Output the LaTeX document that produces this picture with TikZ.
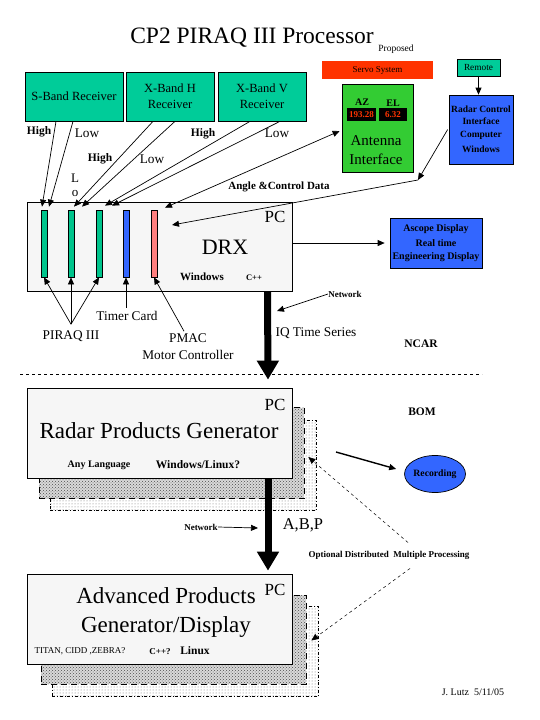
\documentclass[tikz,border=0pt]{standalone}
\usepackage{fontspec}
\setmainfont{Liberation Serif}
\usetikzlibrary{positioning,arrows.meta,patterns,shapes.geometric}
\definecolor{rxteal}{RGB}{0,204,153}
\definecolor{antgreen}{RGB}{51,204,51}
\definecolor{ctlblue}{RGB}{51,102,255}
\definecolor{servored}{RGB}{255,51,0}
\definecolor{cardpink}{RGB}{255,128,128}
\definecolor{cardgreen}{RGB}{0,196,140}
\definecolor{pcgray}{RGB}{246,246,246}
\tikzset {
    style Rx/.style={
        fill=rxteal,
        draw=black,
        rectangle, % receiver boxes
        minimum height=49pt,
        inner sep=0pt,
        align=center,
        font=\fontsize{12.5}{16}\selectfont,
    },
    style PC/.style={
        fill=pcgray,
        draw=black,
        rectangle, % computer boxes
        minimum width=265pt,
        minimum height=90pt,
        inner sep=0pt,
    },
    style Shade/.style={
        draw=black,
        dash pattern=on 6pt off 4pt,
        preaction={fill=black!15},
        pattern=crosshatch dots,
        pattern color=black!70,
        rectangle, % stacked copies behind a PC box
        minimum width=265pt,
        minimum height=90pt,
        inner sep=0pt,
    },
    style Back/.style={
        draw=black,
        dash dot,
        preaction={fill=white},
        pattern=dots,
        pattern color=black!55,
        rectangle, % last copy in the stack
        minimum width=266pt,
        minimum height=90pt,
        inner sep=0pt,
    },
    style Card/.style={
        draw=black,
        rectangle, % boards in the DRX
        minimum width=6pt,
        minimum height=67pt,
        inner sep=0pt,
    },
    style Blue/.style={
        fill=ctlblue,
        draw=black,
        rectangle,
        inner sep=0pt,
        align=center,
        font=\bfseries\fontsize{9.5}{12.5}\selectfont,
    },
    style Text/.style={inner sep=0pt, align=center, font=\fontsize{13.3}{17}\selectfont},
    style Bold/.style={inner sep=0pt, align=center, font=\bfseries\fontsize{11.5}{13}\selectfont},
    style Small/.style={inner sep=0pt, align=center, font=\bfseries\fontsize{9}{11}\selectfont},
    style Fat/.style={line width=7pt, -{Triangle[length=19pt,width=21pt]}},
}

\begin{document}
\begin{tikzpicture}
[x=1pt, y=-1pt, line width=0.7pt, >={Triangle[length=7pt,width=6pt]}]
\useasboundingbox (0,0) rectangle (540,720);

\node[inner sep=0pt, font=\fontsize{23.5}{26}\selectfont] at (252,38) (title) {CP2 PIRAQ III Processor};
\node[inner sep=0pt, font=\fontsize{9.5}{11}\selectfont] at (396,49) (proposed) {Proposed};

% receivers
\node[style Rx, minimum width=98pt] at (74,96.5) (sband) {S-Band Receiver};
\node[style Rx, minimum width=88pt] at (170,96.5) (xh) {X-Band H\\Receiver};
\node[style Rx, minimum width=88pt] at (262,96.5) (xv) {X-Band V\\Receiver};

% servo side
\node[fill=servored, minimum width=111pt, minimum height=18pt, inner sep=0pt, font=\fontsize{9}{11}\selectfont] at (377.5,70) (servo) {Servo System};
\node[fill=rxteal, draw=black, minimum width=43pt, minimum height=17pt, inner sep=0pt, font=\fontsize{9.3}{11}\selectfont] at (478.5,67.5) (remote) {Remote};
\node[fill=antgreen, draw=black, minimum width=71pt, minimum height=88pt, inner sep=0pt] at (377.5,128) (ant) {};
\node[style Small, font=\bfseries\fontsize{10}{12}\selectfont] at (362,102) (az) {AZ};
\node[style Small, font=\bfseries\fontsize{10}{12}\selectfont] at (393,103) (el) {EL};
\node[fill=black, text=servored, minimum width=29pt, minimum height=13pt, inner sep=0pt, font=\bfseries\fontsize{9}{11}\selectfont] at (361.5,114.5) (azval) {193.28};
\node[fill=black, text=servored, minimum width=28pt, minimum height=13pt, inner sep=0pt, font=\bfseries\fontsize{9}{11}\selectfont] at (393,114.5) (elval) {6.32};
\node[inner sep=0pt, align=center, font=\fontsize{15}{19}\selectfont] at (376,150) (antname) {Antenna\\Interface};
\node[style Blue, minimum width=64pt, minimum height=69pt] at (481,129.5) (rci) {Radar Control\\Interface\\Computer\\[3pt]Windows};

% signal labels
\node[style Bold] at (39,132) (hi1) {High};
\node[style Text] at (87,133) (lo1) {Low};
\node[style Bold] at (100,159) (hi2) {High};
\node[style Text] at (152,159) (lo2) {Low};
\node[style Bold] at (203,134) (hi3) {High};
\node[style Text] at (277,133) (lo3) {Low};
\node[style Text, font=\fontsize{13}{13.5}\selectfont] at (75,192) (lovert) {L\\o\\w};
\node[style Bold, font=\bfseries\fontsize{11}{13}\selectfont] at (279,187) (acdata) {Angle \&Control Data};

% DRX
\node[style PC, minimum height=89pt] at (159.5,246.5) (drx) {};
\node[inner sep=0pt, font=\fontsize{17}{20}\selectfont] at (275,217) (drxpc) {PC};
\node[inner sep=0pt, font=\fontsize{22}{26}\selectfont] at (225,247) (drxname) {DRX};
\node[style Bold, font=\bfseries\fontsize{11}{13}\selectfont] at (202,277) (drxos) {Windows};
\node[style Small, font=\bfseries\fontsize{8.5}{10}\selectfont] at (254,278) (drxlang) {C++};
\node[style Card, fill=cardgreen] at (44,243.5) (card1) {};
\node[style Card, fill=cardgreen] at (71,243.5) (card2) {};
\node[style Card, fill=cardgreen] at (99,243.5) (card3) {};
\node[style Card, fill=ctlblue] at (126,243.5) (card4) {};
\node[style Card, fill=cardpink] at (154,243.5) (card5) {};
\node[style Blue, minimum width=92pt, minimum height=50pt, font=\bfseries\fontsize{10}{13}\selectfont] at (436,243) (ascope) {Ascope Display\\[2pt]Real time\\Engineering Display};

\node[style Text] at (71,336) (piraq) {PIRAQ III};
\node[style Text] at (127,316) (timer) {Timer Card};
\node[style Text] at (188,346.5) (pmac) {PMAC\\Motor Controller};
\node[style Small] at (345,294) (net1) {Network};
\node[style Text] at (316,333) (iq) {IQ Time Series};
\node[style Bold] at (421,344) (ncar) {NCAR};
\node[style Bold] at (422,412) (bom) {BOM};

% RPG
\node[style Back] at (183,465) (rpgsh2) {};
\node[style Shade, minimum height=91pt] at (171.5,453) (rpgsh1) {};
\node[style PC] at (160,433) (rpg) {};
\node[inner sep=0pt, font=\fontsize{17}{20}\selectfont] at (275,405) (rpgpc) {PC};
\node[inner sep=0pt, font=\fontsize{23}{26}\selectfont] at (159,431) (rpgname) {Radar Products Generator};
\node[style Small, font=\bfseries\fontsize{10}{12}\selectfont] at (99,465) (rpglang) {Any Language};
\node[style Bold] at (198,465) (rpgos) {Windows/Linux?};
\node[ellipse, fill=ctlblue, draw=black, minimum width=59pt, minimum height=37pt, inner sep=0pt, font=\bfseries\fontsize{9.7}{11}\selectfont] at (435,474) (rec) {Recording};

\node[style Small] at (201,527) (net2) {Network};
\node[inner sep=0pt, font=\fontsize{16.5}{19}\selectfont] at (303,525) (abp) {A,B,P};
\node[style Small] at (389,555) (opt) {Optional Distributed~ Multiple Processing};

% APG
\node[style Back] at (185,651.5) (apgsh2) {};
\node[style Shade, minimum height=89pt] at (173.5,639.5) (apgsh1) {};
\node[style PC] at (160,619) (apg) {};
\node[inner sep=0pt, font=\fontsize{17}{20}\selectfont] at (275,590) (apgpc) {PC};
\node[inner sep=0pt, align=center, font=\fontsize{23}{29}\selectfont] at (166,612.5) (apgname) {Advanced Products\\Generator/Display};
\node[inner sep=0pt, font=\fontsize{9}{11}\selectfont] at (80,651) (apgsw) {TITAN, CIDD ,ZEBRA?};
\node[style Small] at (160,652) (apglang) {C++?};
\node[style Bold] at (195,651) (apgos) {Linux};
\node[inner sep=0pt, font=\fontsize{10}{12}\selectfont] at (473,692) (sign) {J. Lutz~ 5/11/05};

\coordinate (acbend) at (418,180);
\coordinate (drxin) at (172,225);
\coordinate (netin1) at (277,311);
\coordinate (netin2) at (258,528);
\coordinate (recfrom) at (336,452);

\draw[->] ([xshift=-18pt]sband.south) -- ([xshift=-2pt,yshift=3pt]card1.north);
\draw[->] ([xshift=-1pt]sband.south) -- ([xshift=5pt,yshift=3pt]card1.north);
\draw[->] ([xshift=-17pt]xh.south) -- ([xshift=3pt,yshift=3pt]card2.north);
\draw[->] ([xshift=5pt]xh.south) -- ([xshift=11pt,yshift=3pt]card2.north);
\draw[->] ([xshift=-12pt]xv.south) -- ([xshift=6pt,yshift=4pt]card3.north);
\draw[->] ([xshift=18pt]xv.south) -- ([xshift=13pt,yshift=4pt]card3.north);
\draw[<->] ([xshift=11pt,yshift=2pt]card5.north) -- ([xshift=-2pt,yshift=-3pt]ant.west);
\draw[->] (remote.south) -- (remote.south |- rci.north);
\draw[->] ([xshift=-1pt]rci.west) -- (acbend);
\draw[->] (acbend) -- (drxin);
\draw[->] (drx.east |- ascope.west) -- ([xshift=-5pt]ascope.west);
\draw[->] ([yshift=6pt]piraq.north) -- (card1.south);
\draw[->] ([yshift=6pt]piraq.north) -- (card2.south);
\draw[->] ([yshift=6pt]piraq.north) -- (card3.south);
\draw[->] ([xshift=-1pt,yshift=3pt]timer.north) -- (card4.south);
\draw[->] ([xshift=-4pt,yshift=2pt]pmac.north) -- (card5.south);
\draw[->] (net1.west) -- (netin1);
\draw[->] (net2.east) -- (netin2);
\draw[->, line width=1.4pt] (recfrom) -- ([xshift=-8pt,yshift=5pt]rec.west);
\draw[->, dashed, line width=0.5pt] ([xshift=19pt,yshift=8pt]opt.north) -- ([xshift=-8pt,yshift=8pt]rpgsh2.east);
\draw[->, dashed, line width=0.5pt] ([xshift=21pt,yshift=-9pt]opt.south) -- ([xshift=-7pt,yshift=11pt]apgsh2.east);
\draw[style Fat] ([xshift=108pt]drx.south) -- ([xshift=108pt,yshift=8pt]rpg.north);
\draw[style Fat] ([xshift=108pt]rpg.south) -- ([xshift=108pt,yshift=3pt]apg.north);
\draw[dashed] (20,374) -- (482,374);
\end{tikzpicture}
\end{document}
